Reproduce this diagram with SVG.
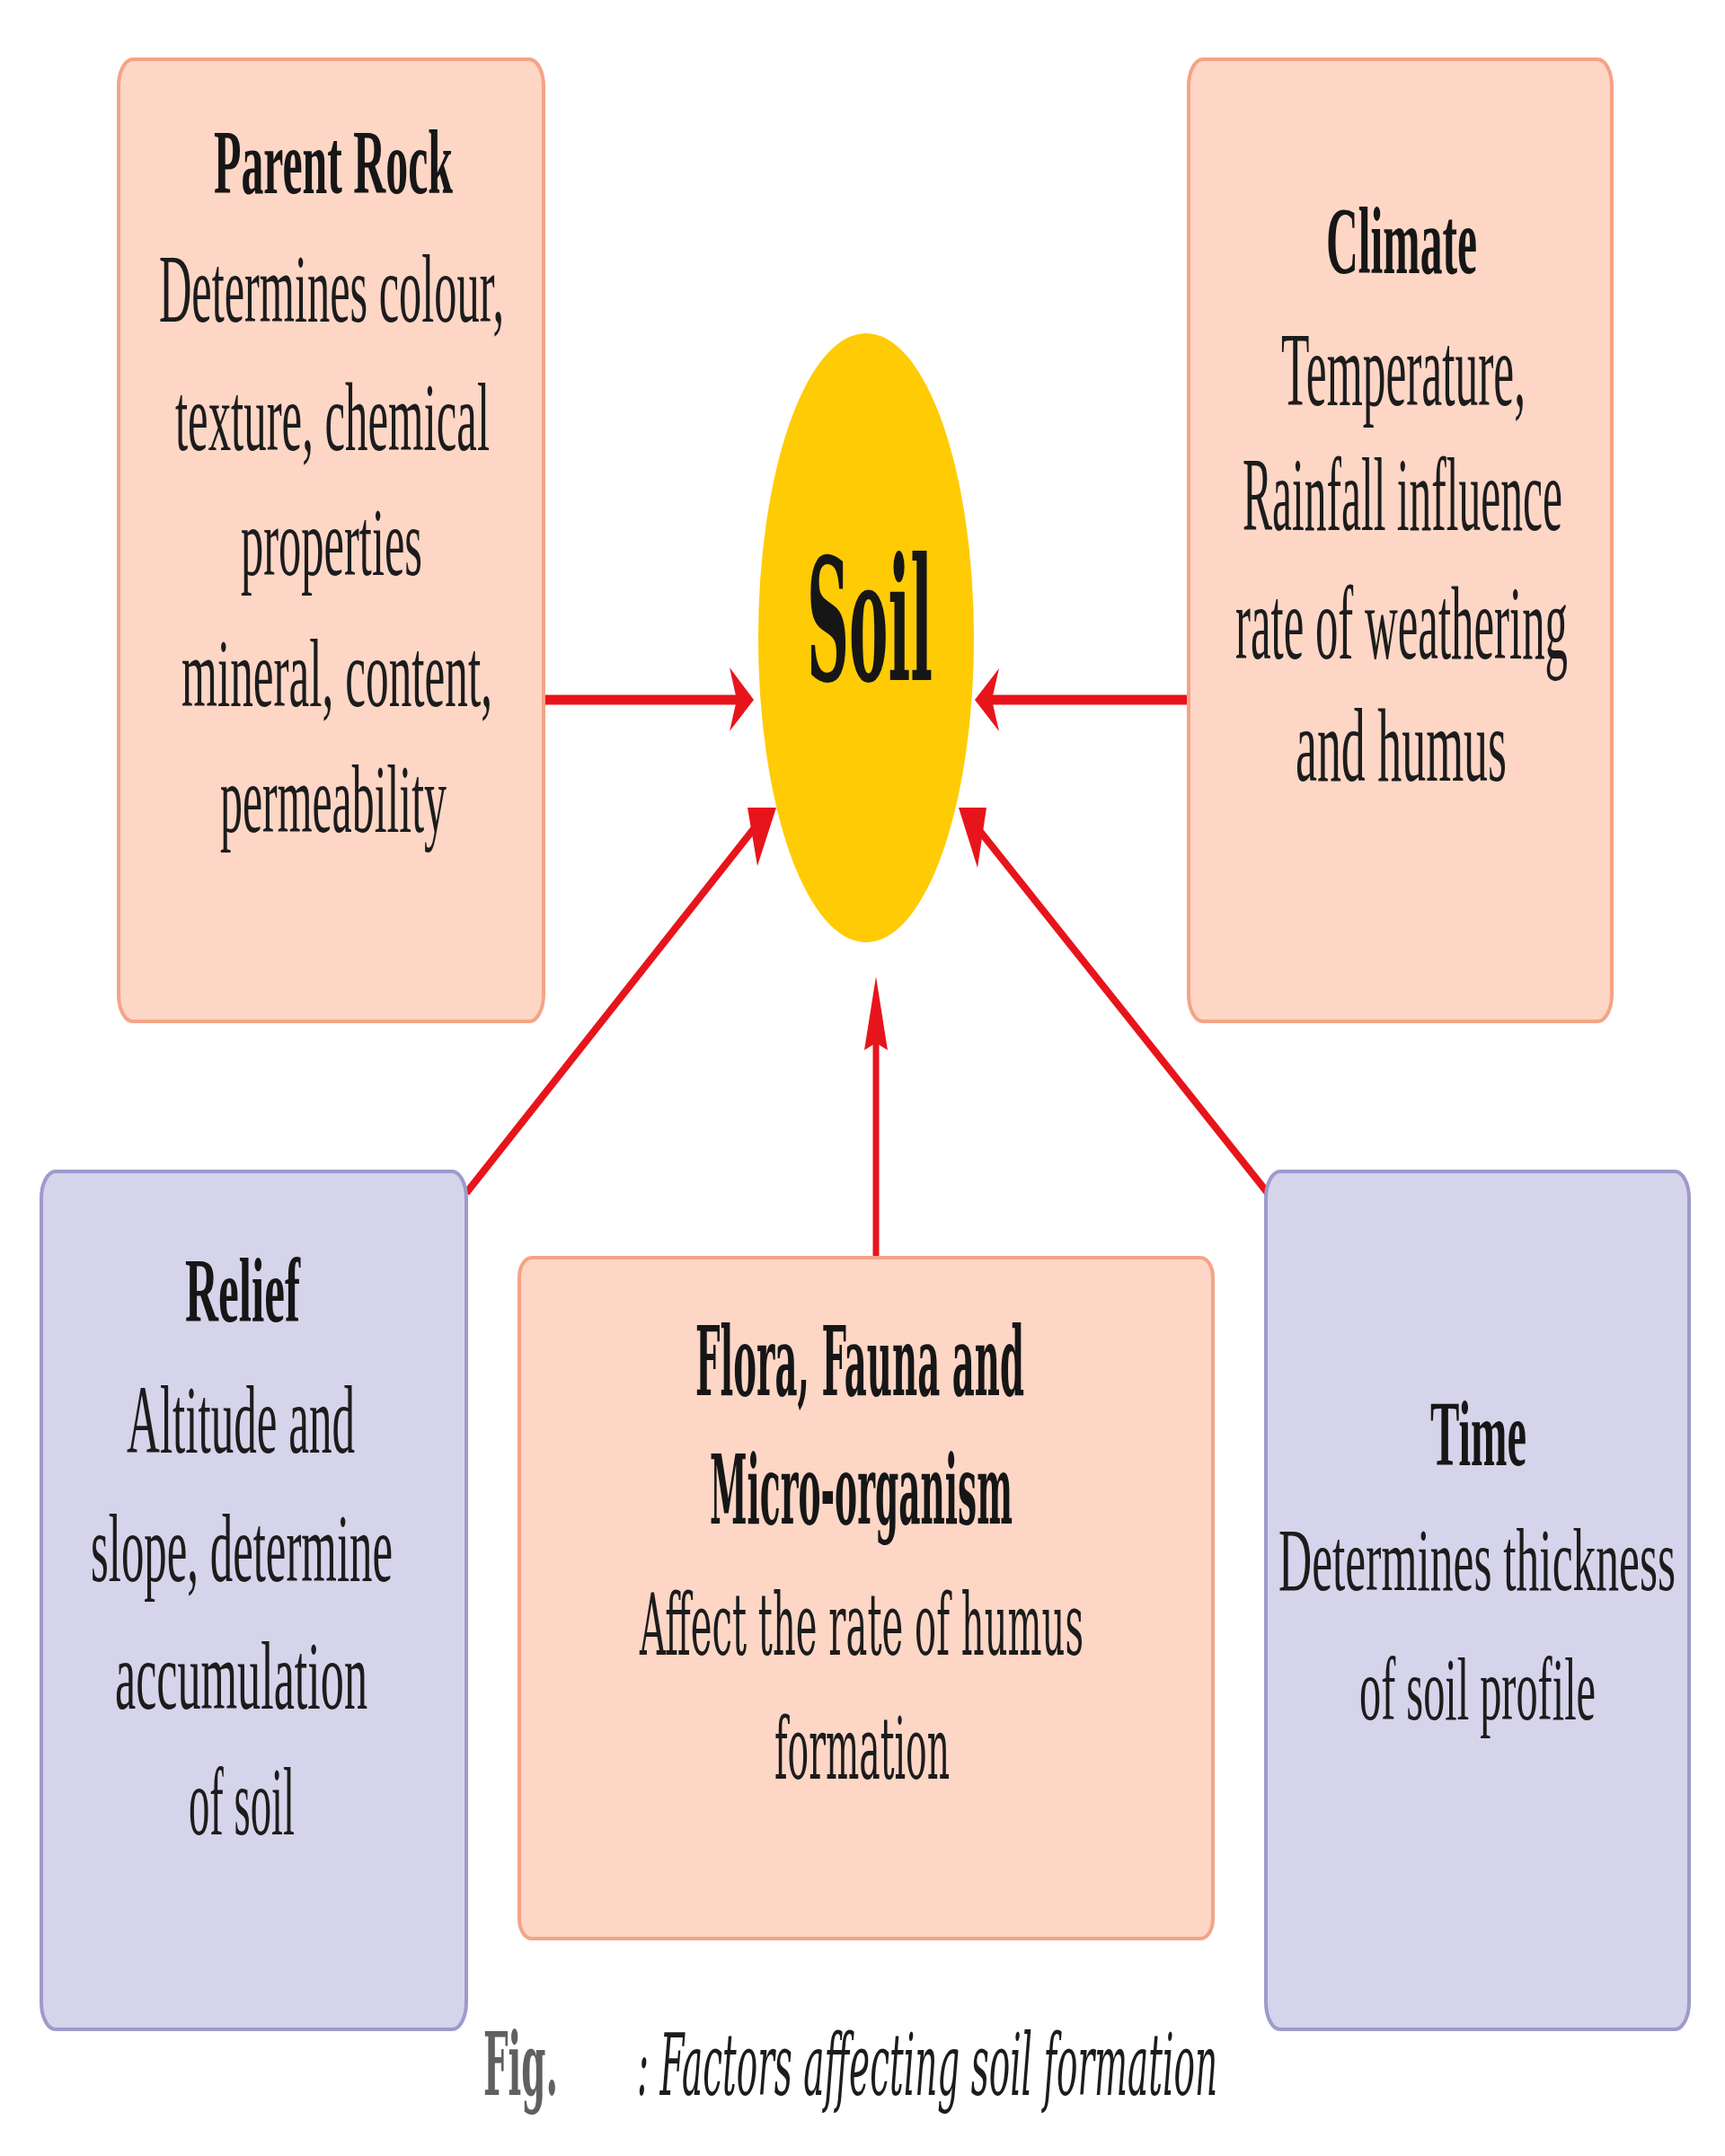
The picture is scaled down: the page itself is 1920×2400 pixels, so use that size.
<svg xmlns="http://www.w3.org/2000/svg" width="1920" height="2400" viewBox="0 0 1920 2400">
<style>
.salmon{fill:#FDD6C6;stroke:#F4A486;stroke-width:4}
.lav{fill:#D6D4EA;stroke:#9E9ACB;stroke-width:4}
.t{font-family:"Liberation Serif","Times New Roman",serif;fill:#1c1c1c;font-size:108px}
.tb{font-family:"Liberation Serif","Times New Roman",serif;fill:#161616;font-weight:bold;font-size:102px}
.s{font-family:"DejaVu Serif",serif;fill:#1c1c1c;font-size:95px}
.sb{font-family:"DejaVu Serif",serif;fill:#161616;font-weight:bold;font-size:106px}
.ln{stroke:#E8141C;fill:none}
.ah{fill:#E8141C}
</style>
<rect width="1920" height="2400" fill="#ffffff"/>
<g id="connectors">
<line class="ln" x1="605" y1="779" x2="822" y2="779" stroke-width="11"/>
<polygon class="ah" points="812,743 839,779 812,814 820,779"/>
<line class="ln" x1="1323" y1="779" x2="1104" y2="779" stroke-width="11"/>
<polygon class="ah" points="1112,744 1085,779 1112,814 1104,779"/>
<line class="ln" x1="519" y1="1328" x2="845" y2="915" stroke-width="8"/>
<polygon class="ah" points="832,899 864,899 843,964"/>
<line class="ln" x1="1411" y1="1328" x2="1085" y2="918" stroke-width="8"/>
<polygon class="ah" points="1067,899 1098,899 1088,966"/>
<line class="ln" x1="975" y1="1400" x2="975" y2="1160" stroke-width="7"/>
<polygon class="ah" points="975,1087 988,1169 975,1161 962,1169"/>
</g>
<g id="soil">
<ellipse cx="964" cy="710" rx="120" ry="339" fill="#FFCB05"/>
<text class="sb" x="898" y="757" style="font-size:190px" textLength="140" lengthAdjust="spacingAndGlyphs">Soil</text>
</g>
<g id="parent-rock">
<rect class="salmon" x="132" y="66" width="473" height="1071" rx="16" ry="30"/>
<text class="tb" x="238" y="215" textLength="266" lengthAdjust="spacingAndGlyphs">Parent Rock</text>
<text class="t" x="177" y="358" textLength="384" lengthAdjust="spacingAndGlyphs">Determines colour,</text>
<text class="t" x="195" y="501" textLength="350" lengthAdjust="spacingAndGlyphs">texture, chemical</text>
<text class="t" x="268" y="640" textLength="202" lengthAdjust="spacingAndGlyphs">properties</text>
<text class="t" x="202" y="786" textLength="346" lengthAdjust="spacingAndGlyphs">mineral, content,</text>
<text class="t" x="245" y="926" textLength="252" lengthAdjust="spacingAndGlyphs">permeability</text>
</g>
<g id="climate">
<rect class="salmon" x="1323" y="66" width="471" height="1071" rx="16" ry="30"/>
<text class="tb" x="1476" y="304" style="font-size:106px" textLength="168" lengthAdjust="spacingAndGlyphs">Climate</text>
<text class="t" x="1426" y="451" style="font-size:116px" textLength="272" lengthAdjust="spacingAndGlyphs">Temperature,</text>
<text class="t" x="1383" y="590" style="font-size:116px" textLength="356" lengthAdjust="spacingAndGlyphs">Rainfall influence</text>
<text class="t" x="1375" y="733" style="font-size:116px" textLength="370" lengthAdjust="spacingAndGlyphs">rate of weathering</text>
<text class="t" x="1442" y="869" style="font-size:116px" textLength="235" lengthAdjust="spacingAndGlyphs">and humus</text>
</g>
<g id="relief">
<rect class="lav" x="46" y="1304" width="473" height="955" rx="16" ry="30"/>
<text class="tb" x="206" y="1471" textLength="128" lengthAdjust="spacingAndGlyphs">Relief</text>
<text class="t" x="141" y="1617" textLength="254" lengthAdjust="spacingAndGlyphs">Altitude and</text>
<text class="t" x="101" y="1760" textLength="336" lengthAdjust="spacingAndGlyphs">slope, determine</text>
<text class="t" x="128" y="1902" textLength="281" lengthAdjust="spacingAndGlyphs">accumulation</text>
<text class="t" x="210" y="2042" textLength="118" lengthAdjust="spacingAndGlyphs">of soil</text>
</g>
<g id="flora">
<rect class="salmon" x="578" y="1400" width="772" height="758" rx="14" ry="22"/>
<text class="sb" x="774" y="1553" textLength="366" lengthAdjust="spacingAndGlyphs">Flora, Fauna and</text>
<text class="sb" x="790" y="1696" textLength="337" lengthAdjust="spacingAndGlyphs">Micro-organism</text>
<text class="s" x="712" y="1842" textLength="494" lengthAdjust="spacingAndGlyphs">Affect the rate of humus</text>
<text class="s" x="862" y="1980" textLength="195" lengthAdjust="spacingAndGlyphs">formation</text>
</g>
<g id="time">
<rect class="lav" x="1409" y="1304" width="471" height="955" rx="16" ry="30"/>
<text class="tb" x="1592" y="1631" style="font-size:104px" textLength="107" lengthAdjust="spacingAndGlyphs">Time</text>
<text class="t" x="1423" y="1770" style="font-size:100px" textLength="442" lengthAdjust="spacingAndGlyphs">Determines thickness</text>
<text class="t" x="1513" y="1914" style="font-size:100px" textLength="263" lengthAdjust="spacingAndGlyphs">of soil profile</text>
</g>
<g id="caption">
<text x="538" y="2332" font-family="DejaVu Serif, serif" font-weight="bold" font-size="98" fill="#606060" textLength="83" lengthAdjust="spacingAndGlyphs">Fig.</text>
<text x="709" y="2332" font-family="DejaVu Serif, serif" font-style="italic" font-size="96" fill="#1c1c1c" textLength="646" lengthAdjust="spacingAndGlyphs">: Factors affecting soil formation</text>
</g>
</svg>
